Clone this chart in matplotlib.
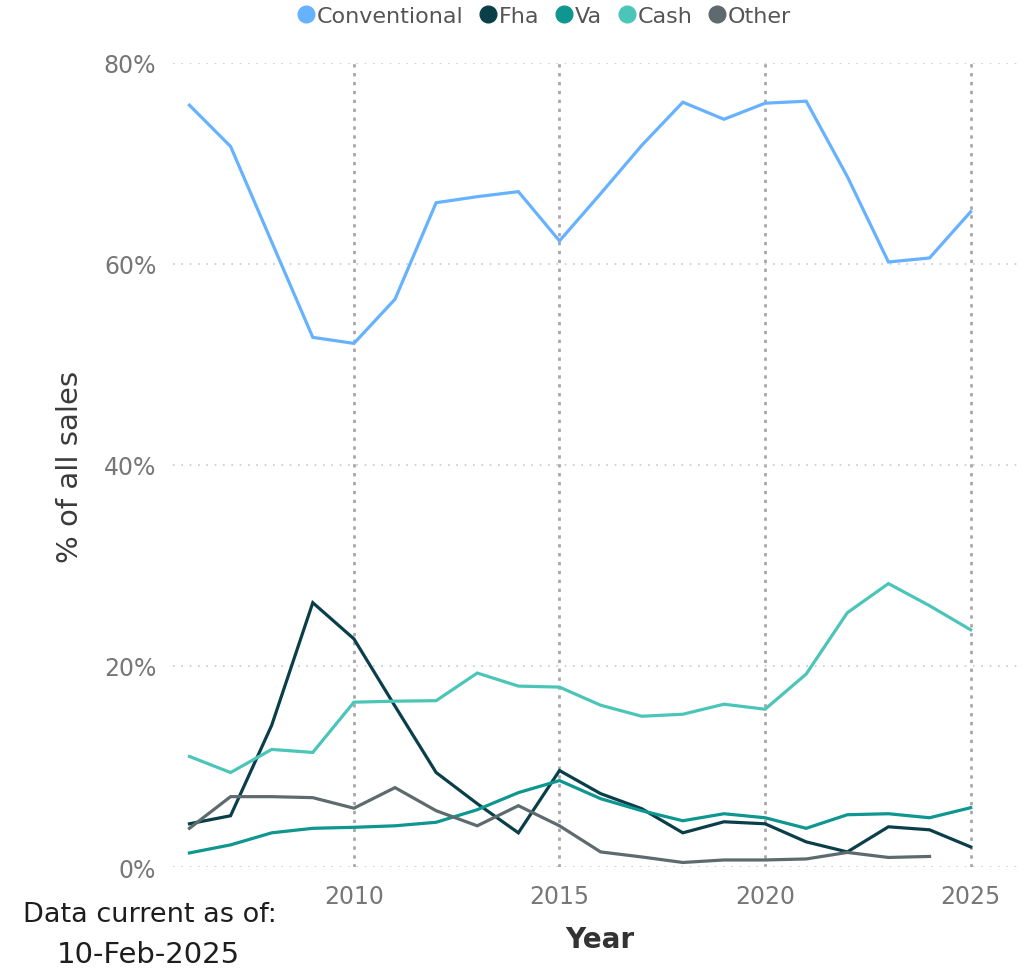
import numpy as np
import matplotlib.pyplot as plt
from matplotlib.lines import Line2D
from matplotlib.ticker import FuncFormatter

years = list(range(2006, 2026))

conventional = [75.8, 71.7, 62.2, 52.7, 52.1, 56.5, 66.1, 66.7, 67.2, 62.3,
                67.0, 71.8, 76.1, 74.4, 76.0, 76.2, 68.7, 60.2, 60.6, 65.2]
fha = [4.3, 5.1, 14.1, 26.3, 22.7, 16.0, 9.4, 6.3, 3.4, 9.6,
       7.3, 5.8, 3.4, 4.5, 4.3, 2.5, 1.5, 4.0, 3.7, 2.0]
va = [1.4, 2.2, 3.4, 3.85, 3.95, 4.1, 4.45, 5.7, 7.4, 8.6,
      6.8, 5.6, 4.6, 5.3, 4.9, 3.85, 5.2, 5.3, 4.9, 5.9]
cash = [11.0, 9.4, 11.7, 11.4, 16.4, 16.5, 16.55, 19.3, 18.0, 17.9,
        16.1, 15.0, 15.2, 16.2, 15.7, 19.2, 25.3, 28.2, 26.0, 23.6]
other = [3.85, 7.0, 7.0, 6.9, 5.85, 7.9, 5.6, 4.1, 6.1, 4.1,
         1.5, 1.0, 0.45, 0.7, 0.7, 0.8, 1.45, 0.95, 1.05, np.nan]

series_names = ["Conventional", "Fha", "Va", "Cash", "Other"]
series_values = [conventional, fha, va, cash, other]
colors = ["#66B2FF", "#0A3F4A", "#0E9690", "#4CC5B9", "#5D6B6E"]

fig = plt.figure(figsize=(10.25, 9.7), dpi=100)
ax = fig.add_axes([173 / 1025, 1 - 868 / 970, (1020 - 173) / 1025, (868 - 64) / 970])

for name, vals, c in zip(series_names, series_values, colors):
    ax.plot(years, vals, color=c, lw=2.3, solid_joinstyle="miter", zorder=3)

ax.set_xlim(2005.6, 2026.2)
ax.set_ylim(0, 80)
ax.set_xticks([2010, 2015, 2020, 2025])
ax.set_yticks([0, 20, 40, 60, 80])
ax.yaxis.set_major_formatter(FuncFormatter(lambda v, p: f"{v:.0f}%"))

for s in ax.spines.values():
    s.set_visible(False)
ax.tick_params(length=0, labelsize=17, labelcolor="#777777", pad=12)

ax.grid(axis="y", color="#c8c8c8", linestyle=(0, (1, 4)), lw=1.2)
ax.grid(axis="x", color="#a8a8a8", linestyle=(0, (1.2, 2)), lw=2)
ax.set_axisbelow(True)

fig.text(70 / 1025, 1 - 467 / 970, "% of all sales", rotation=90, ha="center",
         va="center", fontsize=21, color="#3a3a3a")
fig.text(600 / 1025, 1 - 940 / 970, "Year", ha="center", va="center",
         fontsize=20, color="#333333", fontweight="bold")
fig.text(150 / 1025, 1 - 915 / 970, "Data current as of:", ha="center", va="center",
         fontsize=19.5, color="#1e1e1e")
fig.text(148 / 1025, 1 - 955 / 970, "10-Feb-2025", ha="center", va="center",
         fontsize=21, color="#1e1e1e", fontweight="medium")

handles = [Line2D([], [], marker="o", ls="", markersize=12, color=c,
                  markeredgecolor=c) for c in colors]
leg = fig.legend(handles, series_names, loc="center", ncol=5,
                 bbox_to_anchor=(543 / 1025, 1 - 17 / 970), frameon=False,
                 handletextpad=0.0, columnspacing=0.6, handlelength=1.0,
                 prop={"size": 16})
for t in leg.get_texts():
    t.set_color("#555555")

fig.savefig("out.png", dpi=100)
